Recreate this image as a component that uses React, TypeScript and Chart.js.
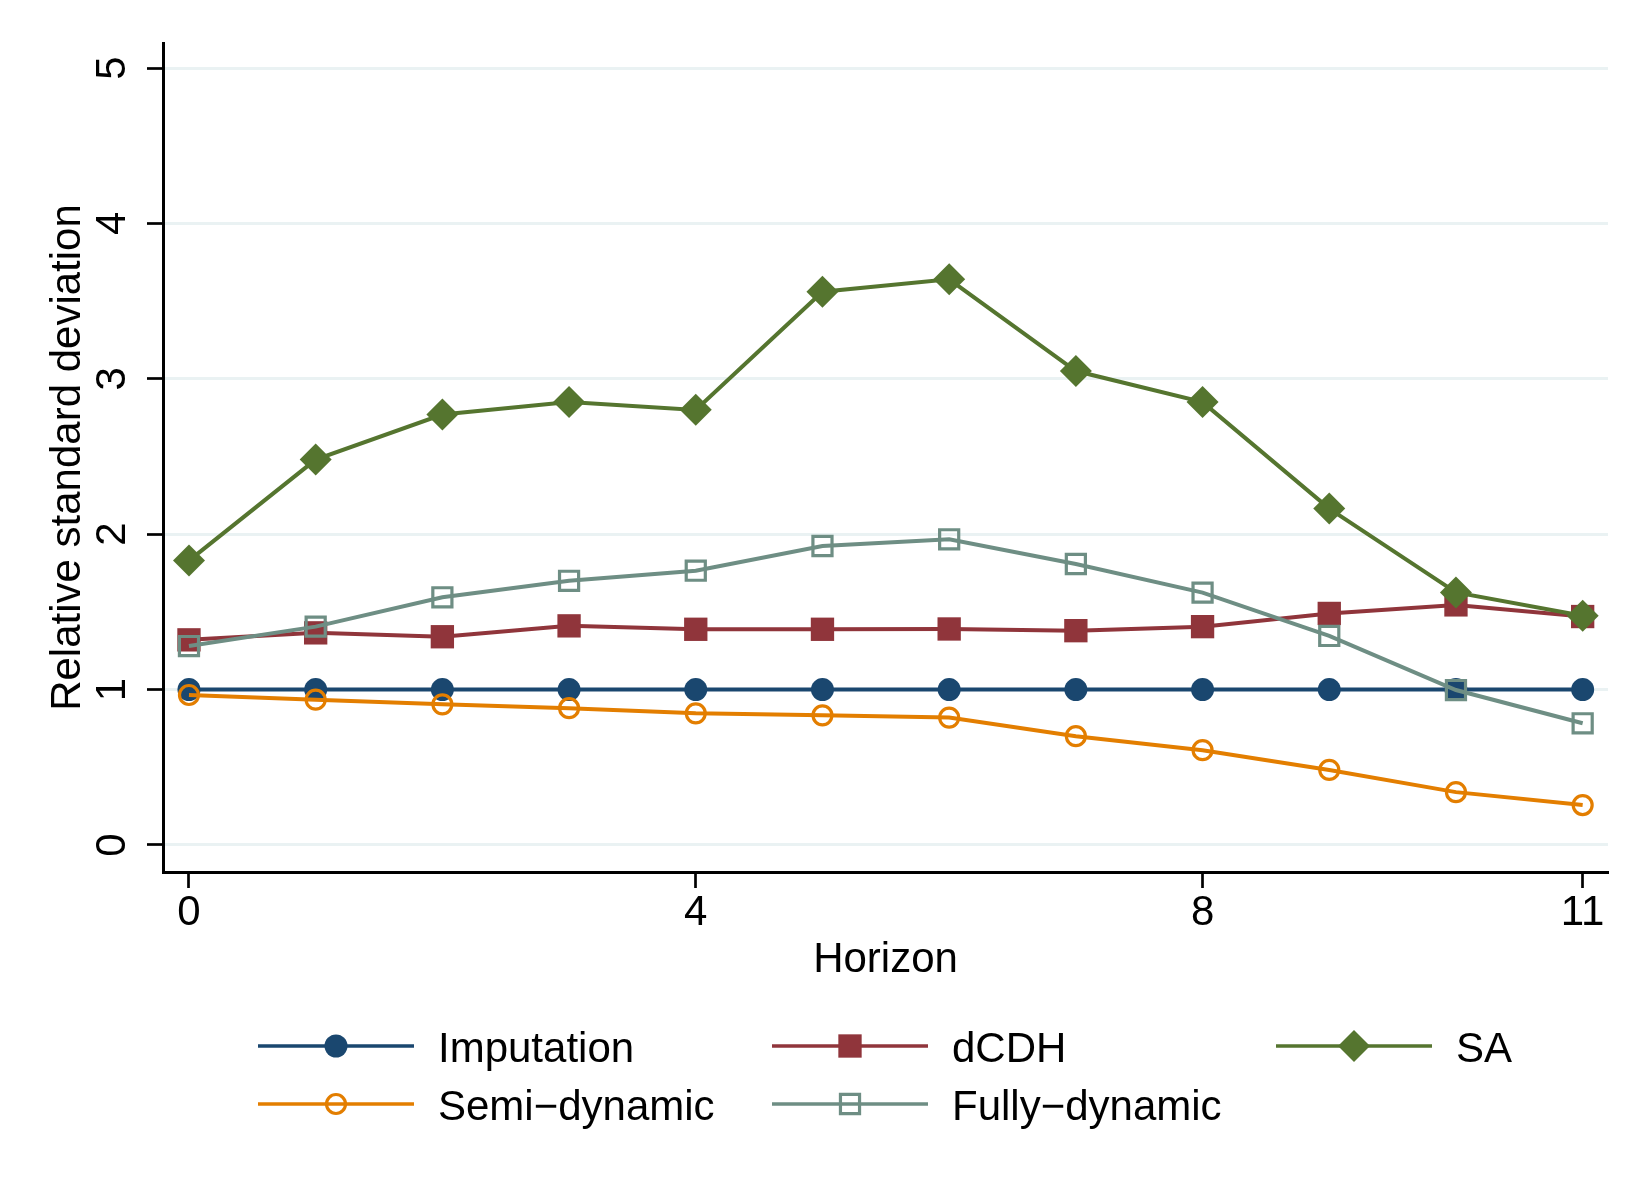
import React, { useRef, useEffect } from 'react';
import Chart from 'chart.js/auto';

// horizon 0..11
const horizon = [0, 1, 2, 3, 4, 5, 6, 7, 8, 9, 10, 11];
const xTickValues = [0, 4, 8, 11];
const yTickValues = [0, 1, 2, 3, 4, 5];

const imputation = [1, 1, 1, 1, 1, 1, 1, 1, 1, 1, 1, 1];
const dcdh = [1.32, 1.365, 1.34, 1.41, 1.388, 1.388, 1.39, 1.379, 1.405, 1.49, 1.545, 1.47];
const sa = [1.83, 2.48, 2.77, 2.85, 2.8, 3.56, 3.64, 3.05, 2.85, 2.165, 1.625, 1.475];
const semiDynamic = [0.965, 0.935, 0.905, 0.88, 0.847, 0.834, 0.82, 0.7, 0.61, 0.483, 0.34, 0.257];
const fullyDynamic = [1.28, 1.405, 1.594, 1.7, 1.765, 1.924, 1.967, 1.808, 1.624, 1.345, 0.997, 0.783];

const FONT = "'Liberation Sans', Arial, Helvetica, sans-serif";

const toPoints = (ys: number[]) => horizon.map((x, i) => ({ x, y: ys[i] }));

// legend slots: [column x, row y]
const legendSlots = [
  [258, 1046],
  [772, 1046],
  [1276, 1046],
  [258, 1104],
  [772, 1104],
];

const drawMarker = (ctx: CanvasRenderingContext2D, ds: any, x: number, y: number) => {
  const r = ds.pointRadius;
  const filled = ds.pointBackgroundColor !== 'rgba(0,0,0,0)';
  ctx.beginPath();
  if (ds.pointStyle === 'circle') {
    ctx.arc(x, y, r, 0, Math.PI * 2);
  } else if (ds.pointStyle === 'rect') {
    const s = Math.SQRT1_2 * r;
    ctx.rect(x - s, y - s, 2 * s, 2 * s);
  } else {
    ctx.moveTo(x, y - r);
    ctx.lineTo(x + r, y);
    ctx.lineTo(x, y + r);
    ctx.lineTo(x - r, y);
    ctx.closePath();
  }
  if (filled) {
    ctx.fillStyle = ds.pointBackgroundColor;
    ctx.fill();
  } else {
    ctx.lineWidth = ds.pointBorderWidth;
    ctx.strokeStyle = ds.pointBorderColor;
    ctx.stroke();
  }
};

const textPlugin = {
  id: 'stataText',
  afterDraw(chart: any) {
    const ctx = chart.ctx as CanvasRenderingContext2D;
    const yScale = chart.scales.y;
    const area = chart.chartArea;
    ctx.save();
    ctx.fillStyle = '#000';
    ctx.font = `42px ${FONT}`;

    // rotated y tick labels
    ctx.textAlign = 'center';
    ctx.textBaseline = 'alphabetic';
    yScale.ticks.forEach((t: any) => {
      const py = yScale.getPixelForValue(t.value);
      ctx.save();
      ctx.translate(125, py);
      ctx.rotate(-Math.PI / 2);
      ctx.fillText(String(t.value), 0, 0);
      ctx.restore();
    });

    // y axis title
    ctx.save();
    ctx.translate(80, (area.top + area.bottom) / 2);
    ctx.rotate(-Math.PI / 2);
    ctx.fillText('Relative standard deviation', 0, 0);
    ctx.restore();

    // x axis title
    ctx.fillText('Horizon', (area.left + area.right) / 2, 972);

    // legend
    chart.data.datasets.forEach((ds: any, i: number) => {
      const [lx, ly] = legendSlots[i];
      ctx.beginPath();
      ctx.strokeStyle = ds.borderColor;
      ctx.lineWidth = 3.5;
      ctx.moveTo(lx, ly);
      ctx.lineTo(lx + 156, ly);
      ctx.stroke();
      drawMarker(ctx, ds, lx + 78, ly);
      ctx.fillStyle = '#000';
      ctx.textAlign = 'left';
      ctx.fillText(ds.label, lx + 180, ly + 16);
    });
    ctx.restore();
  },
};

const App: React.FC = () => {
  const canvasRef = useRef<HTMLCanvasElement>(null);
  const chartRef = useRef<Chart | null>(null);

  useEffect(() => {
    if (!canvasRef.current) return;
    if (chartRef.current) chartRef.current.destroy();

    const hollow = 'rgba(0,0,0,0)';

    chartRef.current = new Chart(canvasRef.current, {
      type: 'line',
      data: {
        datasets: [
          {
            label: 'Imputation',
            data: toPoints(imputation),
            borderColor: '#1a476f',
            borderWidth: 4,
            pointStyle: 'circle',
            pointRadius: 11.5,
            pointBackgroundColor: '#1a476f',
            pointBorderColor: '#1a476f',
            pointBorderWidth: 0,
            order: 5,
          },
          {
            label: 'dCDH',
            data: toPoints(dcdh),
            borderColor: '#90353b',
            borderWidth: 4,
            pointStyle: 'rect',
            pointRadius: 16.5,
            pointBackgroundColor: '#90353b',
            pointBorderColor: '#90353b',
            pointBorderWidth: 0,
            order: 4,
          },
          {
            label: 'SA',
            data: toPoints(sa),
            borderColor: '#55752f',
            borderWidth: 4,
            pointStyle: 'rectRot',
            pointRadius: 16,
            pointBackgroundColor: '#55752f',
            pointBorderColor: '#55752f',
            pointBorderWidth: 0,
            order: 3,
          },
          {
            label: 'Semi\u2212dynamic',
            data: toPoints(semiDynamic),
            borderColor: '#e37e00',
            borderWidth: 4,
            pointStyle: 'circle',
            pointRadius: 9.5,
            pointBackgroundColor: hollow,
            pointBorderColor: '#e37e00',
            pointBorderWidth: 3.2,
            order: 2,
          },
          {
            label: 'Fully\u2212dynamic',
            data: toPoints(fullyDynamic),
            borderColor: '#6e8e84',
            borderWidth: 4,
            pointStyle: 'rect',
            pointRadius: 13.5,
            pointBackgroundColor: hollow,
            pointBorderColor: '#6e8e84',
            pointBorderWidth: 3.2,
            order: 1,
          },
        ],
      },
      options: {
        responsive: true,
        maintainAspectRatio: false,
        animation: false,
        layout: { padding: { left: 0, right: 42, top: 43, bottom: 0 } },
        plugins: {
          legend: { display: false },
          tooltip: { enabled: false },
        },
        elements: { line: { tension: 0 } },
        scales: {
          x: {
            type: 'linear',
            min: -0.205,
            max: 11.2,
            afterBuildTicks: (scale: any) => {
              scale.ticks = xTickValues.map((v) => ({ value: v }));
            },
            afterFit: (scale: any) => {
              scale.height = 328;
            },
            grid: {
              drawOnChartArea: false,
              drawTicks: true,
              tickLength: 16,
              tickColor: '#000',
              tickWidth: 2.7,
            },
            border: { color: '#000', width: 3 },
            ticks: {
              color: '#000',
              font: { family: FONT, size: 42 },
              padding: 0,
              maxRotation: 0,
              autoSkip: false,
            },
          },
          y: {
            type: 'linear',
            min: -0.174,
            max: 5.161,
            afterBuildTicks: (scale: any) => {
              scale.ticks = yTickValues.map((v) => ({ value: v }));
            },
            afterFit: (scale: any) => {
              scale.width = 163;
            },
            grid: {
              color: '#eaf2f3',
              lineWidth: 3,
              drawTicks: true,
              tickLength: 16,
              tickColor: '#000',
              tickWidth: 2.7,
            },
            border: { color: '#000', width: 3 },
            ticks: { display: false },
          },
        },
      },
      plugins: [textPlugin],
    });

    return () => {
      if (chartRef.current) {
        chartRef.current.destroy();
        chartRef.current = null;
      }
    };
  }, []);

  return (
    <div
      style={{
        position: 'fixed',
        left: 0,
        top: 0,
        width: '1650px',
        height: '1200px',
        background: '#fff',
      }}
    >
      <canvas ref={canvasRef} />
    </div>
  );
};

export default App;
